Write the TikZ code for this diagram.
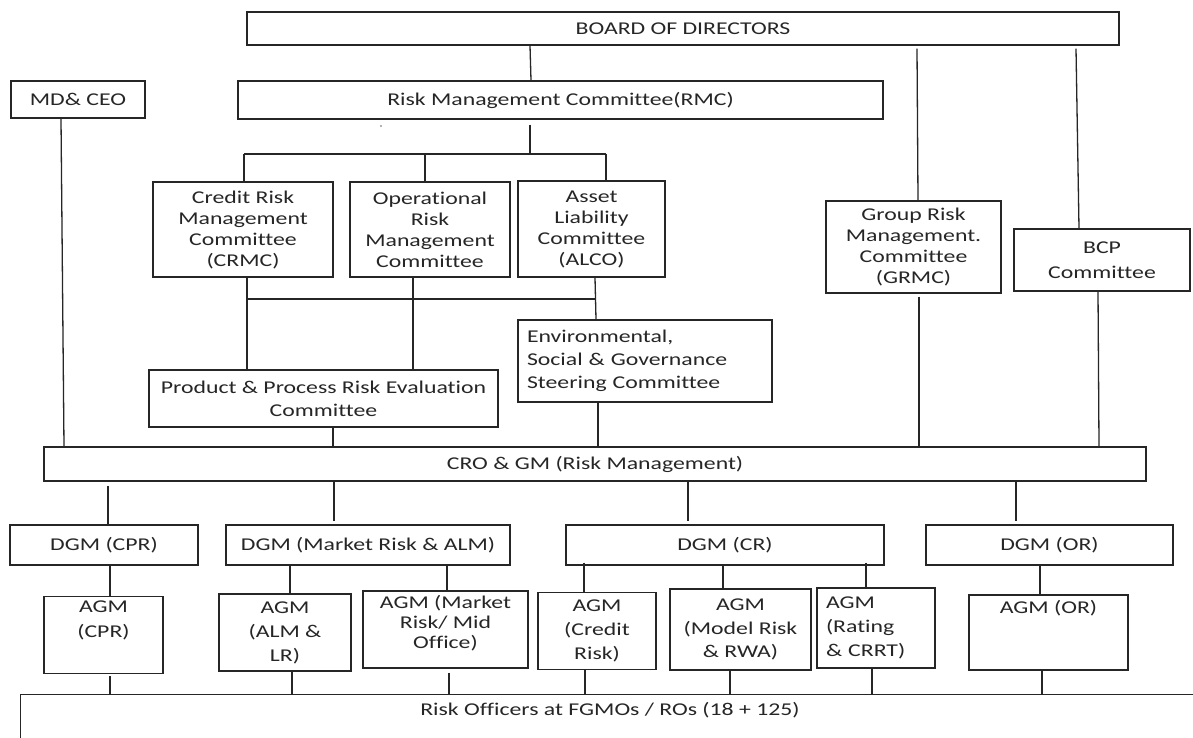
\documentclass[tikz,border=0pt]{standalone}
\usepackage{fontspec}
\setmainfont{Carlito}[FakeStretch=1.32, Ligatures=CommonOff]
\begin{document}
\begin{tikzpicture}[x=1pt,y=-1pt,
  every node/.style={font=\fontsize{18}{21}\selectfont, text=black!85},
  box/.style={draw=black!85, line width=1.4pt, inner sep=0pt, align=center, fill=white},
  conn/.style={draw=black!85, line width=1.3pt}]
\useasboundingbox (0,0) rectangle (1193,738);
\clip (0,0) rectangle (1193,738);
\fill[white] (0,0) rectangle (1193,738);

% top level
\node[box, minimum width=872pt, minimum height=33pt] (board) at (683,28.5) {BOARD OF DIRECTORS};
\node[box, minimum width=134pt, minimum height=37pt] (mdceo) at (78,99.5) {MD\& CEO};
\node[box, minimum width=645pt, minimum height=38pt] (rmc) at (560.5,100) {Risk Management Committee(RMC)};
\fill[black!60] (381,126) circle (0.8pt);

% committees
\node[box, minimum width=180pt, minimum height=95pt] (crmc) at (243,229.5) {Credit Risk\\Management\\Committee\\(CRMC)};
\node[box, minimum width=160pt, minimum height=95pt] (ormc) at (430,229.5) {Operational\\Risk\\Management\\Committee};
\node[box, minimum width=147pt, minimum height=96pt] (alco) at (591.5,229) {Asset\\Liability\\Committee\\(ALCO)};
\node[box, minimum width=175pt, minimum height=92pt] (grmc) at (913.5,247) {Group Risk\\Management.\\Committee\\(GRMC)};
\node[box, minimum width=176pt, minimum height=62pt, font=\fontsize{18}{25}\selectfont] (bcp) at (1102,260) {BCP\\Committee};
\node[box, minimum width=254pt, minimum height=82pt, align=left, text width=236pt, font=\fontsize{18}{23}\selectfont] (esg) at (645,361) {Environmental,\\Social \& Governance\\Steering Committee};
\node[box, minimum width=349pt, minimum height=57pt, font=\fontsize{18}{23}\selectfont] (pprec) at (323.5,398.5) {Product \& Process Risk Evaluation\\Committee};

% CRO
\node[box, minimum width=1102pt, minimum height=34pt] (cro) at (595,464) {CRO \& GM (Risk Management)};

% DGMs
\node[box, minimum width=188pt, minimum height=40pt] (dcpr) at (104,545) {DGM (CPR)};
\node[box, minimum width=284pt, minimum height=40pt] (dmr) at (368,545) {DGM (Market Risk \& ALM)};
\node[box, minimum width=318pt, minimum height=40pt] (dcr) at (725,545) {DGM (CR)};
\node[box, minimum width=247pt, minimum height=40pt] (dor) at (1049.5,545) {DGM (OR)};

% AGMs
\node[box, minimum width=119pt, minimum height=77pt, font=\fontsize{18}{25}\selectfont] (acpr) at (103.5,635) {AGM\\(CPR)\\\strut};
\node[box, minimum width=132pt, minimum height=77pt, font=\fontsize{18}{24}\selectfont] (aalm) at (285,632.5) {AGM\\(ALM \&\\LR)};
\node[box, minimum width=165pt, minimum height=77pt, font=\fontsize{18}{20}\selectfont] (amr) at (445.5,629.5) {AGM (Market\\Risk/ Mid\\Office)\\[-4pt]};
\node[box, minimum width=118pt, minimum height=77pt, font=\fontsize{18}{24}\selectfont] (acrd) at (597,631) {AGM\\(Credit\\Risk)};
\node[box, minimum width=141pt, minimum height=81pt, font=\fontsize{18}{23.5}\selectfont] (amod) at (740.5,629.5) {AGM\\(Model Risk\\\& RWA)};
\node[box, minimum width=118pt, minimum height=80pt, align=left, text width=100pt, font=\fontsize{18}{24}\selectfont] (arat) at (876,628) {AGM\\(Rating\\\& CRRT)};
\node[box, minimum width=159pt, minimum height=75pt, font=\fontsize{18}{22}\selectfont] (aor) at (1048.5,632.5) {AGM (OR)\\\strut\\\strut};

% Risk officers
\node[box, anchor=north west, minimum width=1200pt, minimum height=80pt] (ro) at (20,694) {};
\node (rotext) at (610,710) {Risk Officers at FGMOs / ROs (18 + 125)};

% connectors: top
\draw[conn] (board.south -| 530,0) -- (rmc.north -| 531,0);
\draw[conn] ([yshift=-5pt]rmc.south -| 530,0) -- (530,154) coordinate (rmcbr);
\draw[conn] (244,154) coordinate (brl) -- (606,154) coordinate (brr);
\draw[conn] (brl) -- (crmc.north -| brl);
\draw[conn] (425,154) -- (ormc.north -| 425,0);
\draw[conn] (brr) -- (alco.north -| brr);
\draw[conn] ([yshift=-3pt]board.south -| 917,0) -- (grmc.north -| 918,0);
\draw[conn] ([yshift=-3pt]board.south -| 1076,0) -- (bcp.north -| 1079,0);

% committees to PPREC / ESG
\draw[conn] (crmc.south -| 247,0) -- (pprec.north -| 247,0);
\draw[conn] (247,299) -- (596,299);
\draw[conn] (ormc.south -| 413,0) -- (pprec.north -| 413,0);
\draw[conn] (alco.south -| 595,0) -- (esg.north -| 596,0);

% to CRO
\draw[conn] (mdceo.south -| 61,0) -- (cro.north -| 64,0);
\draw[conn] (pprec.south -| 333,0) -- (cro.north -| 333,0);
\draw[conn] (esg.south -| 598,0) -- (cro.north -| 598,0);
\draw[conn] ([yshift=-3pt]grmc.south -| 919,0) -- (cro.north -| 919,0);
\draw[conn] (bcp.south -| 1098,0) -- (cro.north -| 1099,0);

% CRO to DGMs
\draw[conn] ([yshift=-4pt]cro.south -| 108,0) -- (dcpr.north -| 108,0);
\draw[conn] (cro.south -| 334,0) -- ([yshift=3pt]dmr.north -| 334,0);
\draw[conn] (cro.south -| 688,0) -- ([yshift=3pt]dcr.north -| 688,0);
\draw[conn] (cro.south -| 1016,0) -- ([yshift=3pt]dor.north -| 1016,0);

% DGMs to AGMs
\draw[conn] (dcpr.south -| 110,0) -- (acpr.north -| 110,0);
\draw[conn] (dmr.south -| 290,0) -- (aalm.north -| 290,0);
\draw[conn] (dmr.south -| 447,0) -- (amr.north -| 447,0);
\draw[conn] ([yshift=3pt]dcr.south -| 584,0) -- (acrd.north -| 584,0);
\draw[conn] (dcr.south -| 723,0) -- (amod.north -| 723,0);
\draw[conn] ([yshift=3pt]dcr.south -| 866,0) -- (arat.north -| 866,0);
\draw[conn] (dor.south -| 1040,0) -- (aor.north -| 1040,0);

% AGMs to risk officers
\draw[conn] ([yshift=-2pt]acpr.south -| 110,0) -- (ro.north -| 110,0);
\draw[conn] (aalm.south -| 292,0) -- (ro.north -| 292,0);
\draw[conn] ([yshift=-4pt]amr.south -| 449,0) -- (ro.north -| 449,0);
\draw[conn] (acrd.south -| 585,0) -- (ro.north -| 585,0);
\draw[conn] (amod.south -| 730,0) -- (ro.north -| 730,0);
\draw[conn] (arat.south -| 872,0) -- (ro.north -| 872,0);
\draw[conn] (aor.south -| 1042,0) -- (ro.north -| 1042,0);
\end{tikzpicture}
\end{document}
